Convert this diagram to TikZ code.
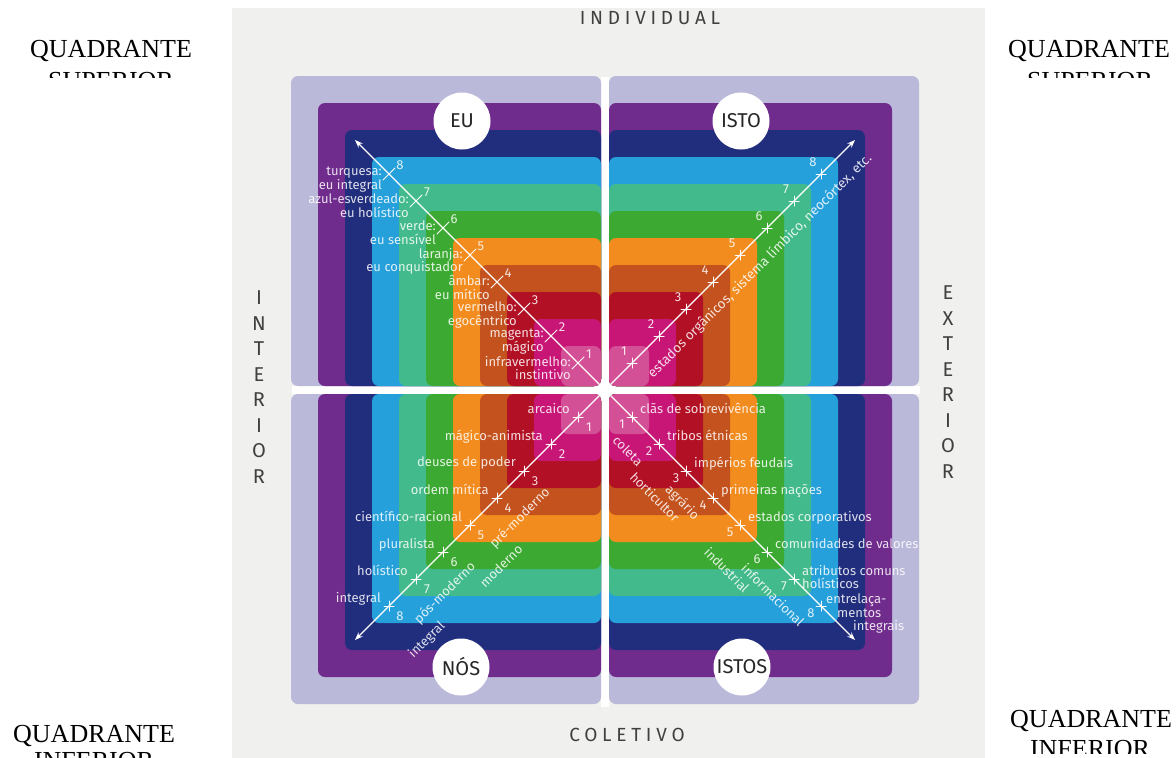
\documentclass[tikz,border=0pt]{standalone}
\usepackage{fontspec}
\setmainfont{Liberation Serif}
\newfontfamily\fonterotulo{Fira Sans}
\newfontfamily\fonteespacada[LetterSpace=25]{Fira Sans}
\usetikzlibrary{arrows.meta}
\definecolor{lavanda}{RGB}{187,185,218}
\definecolor{roxo}{RGB}{112,44,140}
\definecolor{anil}{RGB}{33,45,125}
\definecolor{turquesa}{RGB}{38,160,218}
\definecolor{azulverde}{RGB}{66,186,140}
\definecolor{verdeC}{RGB}{60,170,50}
\definecolor{laranja}{RGB}{242,140,30}
\definecolor{ambar}{RGB}{196,82,30}
\definecolor{vermelho}{RGB}{178,16,36}
\definecolor{magentaC}{RGB}{200,22,118}
\definecolor{infra}{RGB}{212,80,150}
\definecolor{pagina}{RGB}{240,240,238}
\begin{document}
\begin{tikzpicture}[x=1pt,y=-1pt,line join=round,line cap=round,>={Stealth[length=8pt,width=6pt]},
	rotulo/.style={text=white,text opacity=.85,inner sep=0pt,font=\fonterotulo\fontsize{13}{13.5}\selectfont},
	eixo/.style={white,line width=1.2pt,->},
	marca/.style={white,line width=1pt},
	bola/.style={circle,fill=white,minimum size=57pt,inner sep=0pt,text=black!85,font=\fonterotulo\fontsize{20}{20}\selectfont},
	titulo/.style={text=black!75,inner sep=0pt,font=\fonteespacada\fontsize{19}{19}\selectfont},
	letra/.style={text=black!75,inner sep=0pt,font=\fonterotulo\fontsize{20}{20}\selectfont},
	canto/.style={font=\fontsize{26}{30}\selectfont,inner sep=0pt}]
	\useasboundingbox (0,0) rectangle (1176,758);
	%%%Pagina
	\fill[pagina] (232,8) rectangle (985,758);
	\fill[white] (601,77) rectangle (609,707) (292,386) rectangle (920,394);
	%%%Quadrantes
	\tikzset{camadas/.pic={
			\foreach \i/\cor in {0/lavanda,1/roxo,2/anil,3/turquesa,4/azulverde,5/verdeC,6/laranja,7/ambar,8/vermelho,9/magentaC,10/infra}
			\fill[\cor,rounded corners=7pt] (0,0) rectangle ({-310+27*\i},{-310+27*\i});
	}}
	\path (601,386) pic{camadas} (609,386) pic[xscale=-1]{camadas}
	(601,394) pic[yscale=-1]{camadas} (609,394) pic[xscale=-1,yscale=-1]{camadas};
	%%%Eixos
	\coordinate (centro) at (605,390);
	\coordinate (pEU) at (355,140);
	\coordinate (pISTO) at (855,140);
	\coordinate (pNOS) at (355,640);
	\coordinate (pISTOS) at (855,640);
	\draw[eixo] (centro) -- (pEU);
	\draw[eixo] (centro) -- (pISTO);
	\draw[eixo] (centro) -- (pNOS);
	\draw[eixo] (centro) -- (pISTOS);
	%%%EU
	\foreach \k/\ta/\tb in {1/infravermelho:/instintivo,2/magenta:/mágico,3/vermelho:/egocêntrico,4/âmbar:/eu mítico,5/laranja:/eu conquistador,6/verde:/eu sensível,7/azul-esverdeado:/eu holístico,8/turquesa:/eu integral}{
		\draw[marca] (605-27*\k-6,390-27*\k+6) -- ++(12,-12);
		\node[rotulo,anchor=north east,align=right] (eu\k) at (605-27*\k-7,390-27*\k-7) {\ta\\\tb};
		\node[rotulo] (neu\k) at (605-27*\k+11,390-27*\k-9) {\k};
	}
	%%%ISTO
	\foreach \k in {1,...,8}{
		\draw[marca] (605+27*\k-5,390-27*\k) -- ++(10,0) (605+27*\k,390-27*\k-5) -- ++(0,10);
		\node[rotulo] (nisto\k) at (605+27*\k-8,390-27*\k-12) {\k};
	}
	\node[rotulo,rotate=45,font=\fonterotulo\fontsize{13.5}{14}\selectfont] (orgaos) at (760,266) {estados orgânicos, sistema límbico, neocórtex, etc.};
	%%%NOS
	\foreach \k/\ta in {1/arcaico,2/mágico-animista,3/deuses de poder,4/ordem mítica,5/científico-racional,6/pluralista,7/holístico,8/integral}{
		\draw[marca] (605-27*\k-5,390+27*\k) -- ++(10,0) (605-27*\k,390+27*\k-5) -- ++(0,10);
		\node[rotulo,anchor=north east] (nos\k) at (605-27*\k-8,390+27*\k-14) {\ta};
		\node[rotulo] (nnos\k) at (605-27*\k+11,390+27*\k+10) {\k};
	}
	\foreach \ta/\x/\y [count=\n] in {pré-moderno/520/518,moderno/501/566,pós-moderno/445/593,integral/427/640}
	\node[rotulo,rotate=45] (era\n) at (\x,\y) {\ta};
	%%%ISTOS
	\foreach \k/\ta in {1/clãs de sobrevivência,2/tribos étnicas,3/impérios feudais,4/primeiras nações,5/estados corporativos,6/comunidades de valores,7/{atributos comuns\\holísticos}}{
		\node[rotulo,anchor=north west,align=left] (istos\k) at (605+27*\k+8,390+27*\k-14) {\ta};
	}
	\node[rotulo,anchor=north west,align=left] (istos8) at (826,594) {entrelaça-\\\hspace*{11pt}mentos\\\hspace*{27pt}integrais};
	\foreach \k in {1,...,8}{
		\draw[marca] (605+27*\k-5,390+27*\k) -- ++(10,0) (605+27*\k,390+27*\k-5) -- ++(0,10);
		\node[rotulo] (nistos\k) at (605+27*\k-10,390+27*\k+7) {\k};
	}
	\foreach \ta/\x/\y [count=\n] in {coleta/628/451,horticultor/655/497,agrário/682/503,industrial/727/570,informacional/773/595}
	\node[rotulo,rotate=-45] (modo\n) at (\x,\y) {\ta};
	%%%Circulos
	\node[bola] (qEU) at (462,121) {EU};
	\node[bola] (qISTO) at (741,121) {ISTO};
	\node[bola] (qNOS) at (461,667) {NÓS};
	\node[bola] (qISTOS) at (742,667) {ISTOS};
	%%%Titulos
	\node[titulo] (individual) at (650,18) {INDIVIDUAL};
	\node[titulo] (coletivo) at (627,735) {COLETIVO};
	\foreach \l [count=\n] in {I,N,T,E,R,I,O,R}
	\node[letra] (int\n) at (259,{298+25.5*(\n-1)}) {\l};
	\foreach \l [count=\n] in {E,X,T,E,R,I,O,R}
	\node[letra] (ext\n) at (948,{293+25.5*(\n-1)}) {\l};
	%%%Cantos
	\node[canto,anchor=north west] (supE) at (30,40) {QUADRANTE};
	\node[canto,anchor=north west] (supD) at (1008,40) {QUADRANTE};
	\node[canto,anchor=north west] (infE) at (13,725) {QUADRANTE};
	\node[canto,anchor=north west] (infD) at (1010,710) {QUADRANTE};
	\begin{scope}
		\clip (0,0) rectangle (232,77) (985,0) rectangle (1176,77);
		\node[canto,anchor=north] (supE2) at (111,72) {SUPERIOR};
		\node[canto,anchor=north] (supD2) at (1090,72) {SUPERIOR};
	\end{scope}
	\begin{scope}
		\clip (0,700) rectangle (232,758) (985,700) rectangle (1176,753);
		\node[canto,anchor=north] (infE2) at (94,752) {INFERIOR};
		\node[canto,anchor=north] (infD2) at (1090,740) {INFERIOR};
	\end{scope}
\end{tikzpicture}
\end{document}
